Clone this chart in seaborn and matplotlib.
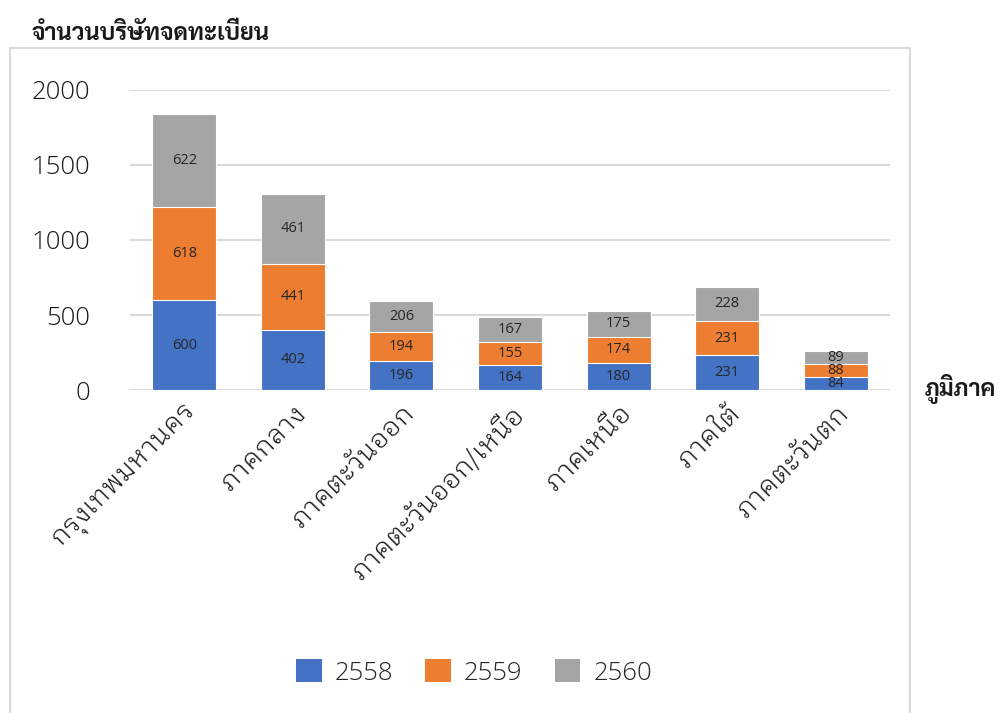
import matplotlib
matplotlib.use("Agg")
import matplotlib.pyplot as plt
from matplotlib.patches import Rectangle, Patch
import numpy as np
import pandas as pd
import seaborn as sns

regions = ["กรุงเทพมหานคร", "ภาคกลาง", "ภาคตะวันออก", "ภาคตะวันออก/เหนือ",
           "ภาคเหนือ", "ภาคใต้", "ภาคตะวันตก"]
years = ["2558", "2559", "2560"]
v2558 = [600, 402, 196, 164, 180, 231, 84]
v2559 = [618, 441, 194, 155, 174, 231, 88]
v2560 = [622, 461, 206, 167, 175, 228, 89]
colors = ["#4472C4", "#ED7D31", "#A5A5A5"]
yticks = [0, 500, 1000, 1500, 2000]

sns.set_theme(style="white")
plt.rcParams["font.family"] = ["Open Sans", "Sarabun", "DejaVu Sans"]
thai = ["IBM Plex Sans Thai Looped", "Sarabun", "DejaVu Sans"]
thai_bold = ["Sarabun", "DejaVu Sans"]

series = [np.array(v2558), np.array(v2559), np.array(v2560)]
cum = np.cumsum(series, axis=0)

fig = plt.figure(figsize=(10, 7.13), dpi=100)
ax = fig.add_axes([0.13, 0.453, 0.76, 0.4208])

# draw stacked bars as overlapping cumulative totals, top layer first
for i in reversed(range(3)):
    df = pd.DataFrame({"region": regions, "value": cum[i]})
    sns.barplot(data=df, x="region", y="value", color=colors[i], saturation=1,
                width=0.59, edgecolor="white", linewidth=0.8, ax=ax, zorder=3)

# value labels centred in each segment
for i in range(3):
    bottoms = cum[i] - series[i]
    for x, (b, v) in enumerate(zip(bottoms, series[i])):
        ax.text(x, b + v / 2, f"{v}", ha="center", va="center", fontsize=10.5,
                color="#262626", zorder=5)

ax.set_ylim(0, 2000)
ax.set_xlim(-0.5, len(regions) - 0.5)
ax.set_yticks(yticks)
ax.set_yticklabels([str(t) for t in yticks], fontsize=18.5, fontweight="light",
                   color="#1a1a1a")
ax.tick_params(axis="y", length=0, pad=29)
ax.tick_params(axis="x", length=0, pad=7)
ax.set_xticks(range(len(regions)))
ax.set_xticklabels(regions, rotation=45, ha="right", rotation_mode="anchor",
                   family=thai, fontsize=19, fontweight=300, color="#1a1a1a")
ax.set_xlabel("")
ax.set_ylabel("")
ax.yaxis.grid(True, color="#d9d9d9", linewidth=1.5, zorder=0)
ax.set_axisbelow(True)
for s in ax.spines.values():
    s.set_visible(False)

# outer chart border
fig.patches.append(Rectangle((0.010, -0.05), 0.900, 0.983, transform=fig.transFigure,
                             fill=False, edgecolor="#d9d9d9", linewidth=1.5))

fig.text(0.032, 0.953, "จำนวนบริษัทจดทะเบียน", family=thai_bold, fontsize=17,
         fontweight="bold", ha="left", va="center", color="#1a1a1a")
fig.text(0.925, 0.455, "ภูมิภาค", family=thai_bold, fontsize=17, fontweight="bold",
         ha="left", va="center", color="#1a1a1a")

handles = [Patch(facecolor=c, edgecolor="none") for c in colors]
fig.legend(handles, years, loc="center", bbox_to_anchor=(0.474, 0.057), ncol=3,
           frameon=False, handlelength=1.0, handleheight=1.0,
           handletextpad=0.5, columnspacing=1.25, prop={"size": 18.5, "weight": "light"})

fig.savefig("out.png", dpi=100)
